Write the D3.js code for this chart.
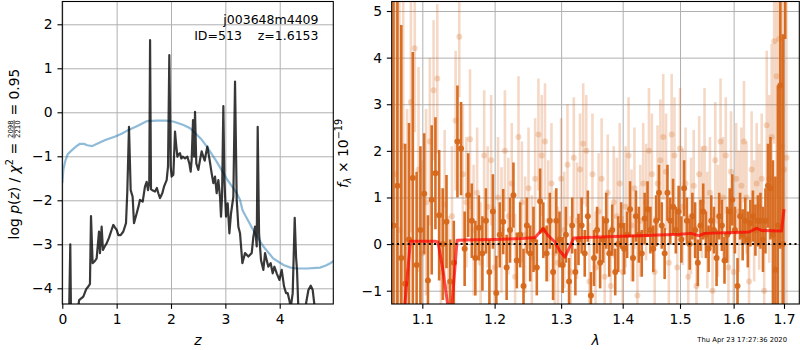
<!DOCTYPE html>
<html><head><meta charset="utf-8">
<script src="https://cdn.jsdelivr.net/npm/d3@7"></script>
<style>
body{margin:0;background:#fff;}
svg{font-family:"DejaVu Sans",sans-serif;}
text{white-space:pre;}
</style></head><body>
<svg id="c" width="800" height="350"></svg>
<script>
// ---------- p(z) panel data ----------
const zGrid=[0.10,0.125,0.147,0.16,0.25,0.31,0.387,0.44,0.479,0.509,
0.528,0.558,0.60,0.632,0.675,0.693,0.724,0.748,0.78,0.816,
0.86,0.908,0.939,0.97,1.0,1.031,1.074,1.123,1.172,1.196,
1.227,1.258,1.294,1.319,1.368,1.40,1.429,1.479,1.521,1.552,
1.577,1.600,1.615,1.632,1.656,1.706,1.74,1.767,1.798,1.840,
1.871,1.920,1.945,1.969,1.994,2.012,2.043,2.074,2.092,2.117,
2.14,2.166,2.19,2.215,2.258,2.301,2.337,2.362,2.380,2.405,
2.425,2.442,2.465,2.503,2.534,2.564,2.595,2.62,2.644,2.669,
2.706,2.748,2.779,2.810,2.840,2.871,2.902,2.920,2.939,2.963,
2.982,3.012,3.043,3.074,3.104,3.147,3.178,3.209,3.239,3.270,
3.313,3.362,3.423,3.485,3.515,3.546,3.577,3.595,3.620,3.656,
3.699,3.730,3.761,3.791,3.834,3.871,3.902,3.945,3.994,4.037,
4.080,4.117,4.147,4.178,4.202,4.239,4.276,4.301,4.319,4.344,
4.40,4.485,4.528,4.571,4.607,4.650,4.70,4.99];
const logPz=[-4.8,-4.6,-3.0,-4.6,-4.8,-4.27,-4.19,-4.02,-3.96,-3.90,
-2.36,-3.43,-3.38,-3.32,-2.71,-3.20,-2.60,-3.13,-3.05,-2.98,
-2.85,-2.67,-2.56,-2.62,-2.67,-2.79,-2.79,-2.71,-2.52,-1.80,
-0.33,-1.77,-1.92,-2.52,-2.30,-2.15,-1.99,-2.03,-1.69,-1.58,
-1.77,-1.58,1.64,-1.75,-1.77,-1.80,-1.72,-1.84,-1.95,-1.84,
-1.69,-1.54,-1.23,1.30,-1.23,-1.46,-1.42,-0.44,-0.70,-1.01,
-0.95,-0.93,-1.05,-1.01,-1.05,-1.01,-1.16,-1.35,-1.08,-0.18,
-1.01,0.01,-1.16,-1.31,-1.08,-0.89,-1.01,-1.10,-0.93,-0.78,
-1.05,-1.39,-1.61,-1.46,-1.84,-1.54,-1.92,-2.37,-1.92,0.14,
-1.54,-2.37,-2.07,-2.75,-2.30,-1.92,0.70,-1.99,-2.60,-2.75,
-3.43,-3.20,-3.28,-3.20,-2.83,-2.60,-3.05,-0.33,-2.75,-3.36,
-3.58,-3.20,-3.36,-3.51,-3.43,-3.66,-3.51,-3.66,-3.81,-3.58,
-3.96,-4.11,-4.11,-4.27,-4.45,-4.11,-2.40,-3.29,-3.6,-4.5,
-4.8,-4.34,-4.04,-3.94,-4.04,-4.5,-4.9,-5.2];
const zPrior=[0,0.02,0.056,0.1,0.178,0.25,0.32,0.40,0.46,0.546,
0.65,0.79,0.975,1.1,1.22,1.40,1.558,1.742,1.9,2.04,
2.23,2.35,2.41,2.55,2.66,2.84,3.02,3.21,3.27,3.31,
3.33,3.51,3.70,3.88,4.07,4.2,4.31,4.50,4.74,4.85,4.93,5.02];
const logPrior=[-1.61,-1.30,-1.10,-0.95,-0.86,-0.78,-0.72,-0.72,-0.75,-0.77,
-0.71,-0.63,-0.55,-0.48,-0.40,-0.30,-0.20,-0.19,-0.19,-0.21,
-0.29,-0.36,-0.43,-0.60,-0.78,-1.12,-1.50,-1.84,-1.99,-2.20,
-2.26,-2.67,-3.05,-3.32,-3.47,-3.53,-3.55,-3.55,-3.53,-3.48,-3.43,-3.36];
const pzXTicks=[0,1,2,3,4];
const pzYTicks=[-4,-3,-2,-1,0,1,2];
const pzDomainX=[0,4.986], pzDomainY=[-4.357,2.518];
const titleLine1="j003648m4409";
const titleLine2="ID=513    z=1.6153";

// ---------- spectrum panel data ----------
const lamDark=[1.0625,1.0675,1.0725,1.0775,1.0825,1.0875,1.0925,1.0975,1.1025,1.1075,
1.1125,1.1175,1.1225,1.1275,1.1325,1.1375,1.1425,1.1475,1.1525,1.1575,
1.1625,1.1675,1.1725,1.1775,1.1825,1.1875,1.1925,1.1975,1.2025,1.2075,
1.2125,1.2175,1.2225,1.2275,1.2325,1.2375,1.2425,1.2475,1.2525,1.2575,
1.2625,1.2675,1.2725,1.2775,1.2825,1.2875,1.2925,1.2975,1.3025,1.3075,
1.3125,1.3175,1.3225,1.3275,1.3325,1.3375,1.3425,1.3475,1.3525,1.3575,
1.3625,1.3675,1.3725,1.3775,1.3825,1.3875,1.3925,1.3975,1.4025,1.4075,
1.4125,1.4175,1.4225,1.4275,1.4325,1.4375,1.4425,1.4475,1.4525,1.4575,
1.4625,1.4675,1.4725,1.4775,1.4825,1.4875,1.4925,1.4975,1.5025,1.5075,
1.5125,1.5175,1.5225,1.5275,1.5325,1.5375,1.5425,1.5475,1.5525,1.5575,
1.5625,1.5675,1.5725,1.5775,1.5825,1.5875,1.5925,1.5975,1.6025,1.6075,
1.6125,1.6175,1.6225,1.6275,1.6325,1.6375,1.6425,1.6475,1.6525,1.6575,
1.6625,1.6675,1.6725,1.6775,1.6825,1.6875,1.6925,1.6975,1.7025];
const fluxDark=[0.4,1.25,-0.3,-0.85,0.1,1.42,-0.45,0.3,1.08,-0.78,
0.95,1.52,0.62,0.0,0.48,-0.8,-0.4,2.2,2.05,-0.1,
1.05,0.5,-0.3,0.35,-0.2,0.5,-0.6,0.7,-1.05,0.2,
0.48,-0.5,0.3,1.05,-0.35,0.2,-0.9,0.4,-0.2,0.1,
-0.5,0.92,0.3,-0.2,0.5,-0.6,0.5,0.1,-0.45,0.2,
-0.8,0.4,-0.6,0.1,0.4,-0.2,0.6,-1.1,-0.3,0.3,
-0.4,0.1,0.5,-0.2,0.3,-0.6,0.0,0.4,-0.1,0.2,
0.75,-0.3,0.6,0.2,-0.2,0.55,0.75,0.3,-0.1,0.5,
1.1,0.4,-0.2,1.1,0.5,0.8,0.3,0.7,0.1,1.2,
0.5,0.0,0.6,0.3,-0.4,0.4,0.7,0.2,-0.1,0.5,
0.3,-0.3,0.6,0.4,-0.35,0.2,0.7,0.95,0.3,-0.9,
0.6,0.2,0.5,0.1,0.45,0.6,0.3,0.5,0.5,0.1,
0.5,1.25,1.2,0.2,-0.55,0.4,3.4,0.0,5.8];
const errDark=[6,4.5,5,3,2.5,2.7,2.0,1.8,1.3,1.4,
1.6,1.2,1.4,1.2,1.0,0.9,0.9,1.2,1.0,0.8,
0.9,0.8,0.8,0.7,0.8,0.7,0.7,0.8,0.8,0.7,
0.7,0.7,0.7,0.7,0.6,0.7,0.8,0.6,0.6,0.7,
0.6,0.7,0.6,0.6,0.6,0.6,0.7,0.6,0.6,0.6,
0.5,0.6,0.5,0.55,0.6,0.5,0.55,0.5,0.6,0.5,
0.55,0.5,0.6,0.5,0.55,0.5,0.6,0.5,0.55,0.5,
0.6,0.5,0.55,0.6,0.5,0.55,0.6,0.5,0.5,0.55,
0.6,0.5,0.55,0.6,0.5,0.6,0.5,0.55,0.5,0.6,
0.5,0.55,0.5,0.6,0.5,0.55,0.6,0.5,0.5,0.55,
0.5,0.6,0.5,0.55,0.5,0.6,0.5,0.55,0.5,0.6,
0.5,0.55,0.5,0.6,0.5,0.55,0.55,0.55,0.6,0.7,
0.7,0.9,1.1,1.6,2.0,3,3.5,4.5,1.4];
const lamLight=[1.065,1.070,1.075,1.080,1.085,1.090,1.095,1.100,1.105,1.110,
1.115,1.120,1.125,1.130,1.135,1.140,1.145,1.150,1.155,1.160,
1.165,1.170,1.175,1.180,1.185,1.190,1.195,1.200,1.205,1.210,
1.215,1.220,1.225,1.230,1.235,1.240,1.245,1.250,1.255,1.260,
1.265,1.270,1.275,1.280,1.285,1.290,1.295,1.300,1.305,1.310,
1.315,1.320,1.325,1.330,1.335,1.340,1.345,1.350,1.355,1.360,
1.365,1.370,1.375,1.380,1.385,1.390,1.395,1.400,1.405,1.410,
1.415,1.420,1.425,1.430,1.435,1.440,1.445,1.450,1.455,1.460,
1.465,1.470,1.475,1.480,1.485,1.490,1.495,1.500,1.505,1.510,
1.515,1.520,1.525,1.530,1.535,1.540,1.545,1.550,1.555,1.560,
1.565,1.570,1.575,1.580,1.585,1.590,1.595,1.600,1.605,1.610,
1.615,1.620,1.625,1.630,1.635,1.640,1.645,1.650,1.655,1.660,
1.665,1.670,1.675,1.680,1.685,1.690,1.695,1.700,1.705];
const fluxLight=[1.5,0.3,2.1,-0.6,3.05,4.2,1.6,-0.2,0.9,2.2,
3.3,3.55,-0.6,0.85,-0.9,0.6,2.65,4.45,1.5,0.9,
2.25,0.3,1.1,-0.4,1.9,0.8,1.8,-0.5,1.0,0.3,
2.0,0.6,1.3,-0.7,2.3,0.9,0.2,1.2,-0.3,1.4,
2.35,1.9,2.2,0.5,1.3,-0.2,-0.4,1.4,0.3,1.7,
-0.6,1.85,0.5,1.6,2.15,2.0,-0.8,1.5,-0.5,0.7,
1.4,-0.7,1.1,-0.9,0.9,0.6,1.3,-0.6,0.8,1.9,
0.4,1.2,-1.1,0.5,1.3,0.9,2.0,1.5,-0.6,1.3,
1.8,2.3,1.55,-0.4,2.35,1.9,-0.5,2.05,0.8,1.3,
-0.7,0.6,1.25,-0.9,1.5,0.9,2.05,0.3,1.1,-1.0,
1.8,0.5,2.2,1.0,1.9,-0.5,1.55,-0.6,1.4,0.7,
1.25,2.2,1.0,-0.8,1.6,0.5,1.3,0.8,1.4,-1.0,
2.55,1.4,2.3,4.35,3.6,4.4,2.1,1.6,1.85];
const errLight=[5,5,4,3.5,2.8,1.8,2.2,2,2,1.8,
1.5,1.6,1.8,1.6,1.5,1.5,1.5,1.3,1.5,1.4,
1.5,1.4,1.4,1.3,1.4,1.3,1.4,1.3,1.3,1.35,
1.3,1.25,1.3,1.35,1.3,1.3,1.25,1.3,1.35,1.3,
1.2,1.3,1.25,1.3,1.3,1.35,1.2,1.3,1.25,1.3,
1.2,1.3,1.25,1.2,1.3,1.2,1.25,1.3,1.2,1.25,
1.3,1.2,1.25,1.3,1.2,1.25,1.3,1.2,1.3,1.25,
1.2,1.3,1.25,1.2,1.3,1.25,1.35,1.3,1.2,1.25,
1.3,1.35,1.25,1.2,1.3,1.25,1.2,1.3,1.25,1.2,
1.3,1.25,1.2,1.3,1.25,1.2,1.3,1.25,1.2,1.3,
1.25,1.2,1.35,1.3,1.25,1.2,1.3,1.25,1.2,1.3,
1.25,1.3,1.2,1.3,1.25,1.3,1.3,1.35,1.4,1.5,
1.6,1.8,2.0,2.2,2.6,3,3.5,4,4];
const lamModel=[1.062,1.0771,1.0843,1.10,1.118,1.121,1.128,1.135,1.1395,1.147,
1.16,1.20,1.24,1.26,1.265,1.272,1.28,1.29,1.298,1.306,
1.314,1.32,1.36,1.40,1.45,1.50,1.52,1.535,1.545,1.60,
1.63,1.645,1.655,1.695,1.70];
const fluxModel=[-3,-1.3,0.06,0.06,0.06,0.04,-0.6,-1.4,-1.4,0.08,
0.09,0.10,0.12,0.14,0.22,0.33,0.18,0.05,-0.15,-0.28,
-0.05,0.13,0.15,0.17,0.19,0.21,0.23,0.18,0.23,0.25,
0.26,0.34,0.29,0.28,0.75];
const specXTicks=[1.1,1.2,1.3,1.4,1.5,1.6,1.7];
const specYTicks=[-1,0,1,2,3,4,5];
const specDomainX=[1.0602,1.7316], specDomainY=[-1.285,5.204];
const timeStamp="Thu Apr 23 17:27:36 2020";

// ---------- drawing ----------
const svg=d3.select("#c");
const FS=13.9, TICK=4.86, GRID="#b0b0b0";
const specColor="#d6671a";

function panel(box, xs, ys, xt, yt, xfmt, yfmt, id){
  const g=svg.append("g");
  // grid
  g.append("g").attr("transform",`translate(0,${box.y1})`)
    .call(d3.axisBottom(xs).tickValues(xt).tickSize(-(box.y1-box.y0)).tickFormat(""))
    .call(a=>{a.select(".domain").remove();a.selectAll("line").attr("stroke",GRID).attr("stroke-width",1);});
  g.append("g").attr("transform",`translate(${box.x0},0)`)
    .call(d3.axisLeft(ys).tickValues(yt).tickSize(-(box.x1-box.x0)).tickFormat(""))
    .call(a=>{a.select(".domain").remove();a.selectAll("line").attr("stroke",GRID).attr("stroke-width",1);});
  svg.append("defs").append("clipPath").attr("id",id)
    .append("rect").attr("x",box.x0).attr("y",box.y0).attr("width",box.x1-box.x0).attr("height",box.y1-box.y0);
  const plot=svg.append("g").attr("clip-path",`url(#${id})`);
  return plot;
}
function frameAndAxes(box, xs, ys, xt, yt, xfmt, yfmt){
  svg.append("rect").attr("x",box.x0).attr("y",box.y0).attr("width",box.x1-box.x0).attr("height",box.y1-box.y0)
    .attr("fill","none").attr("stroke","#000").attr("stroke-width",1.1);
  const style=a=>{a.select(".domain").remove();a.attr("font-family",null).attr("font-size",null);
    a.selectAll("text").attr("font-size",FS).attr("fill","#000");a.selectAll("line").attr("stroke","#000").attr("stroke-width",1.1);};
  svg.append("g").attr("transform",`translate(0,${box.y1})`)
    .call(d3.axisBottom(xs).tickValues(xt).tickSize(TICK).tickPadding(TICK).tickFormat(xfmt)).call(style);
  svg.append("g").attr("transform",`translate(${box.x0},0)`)
    .call(d3.axisLeft(ys).tickValues(yt).tickSize(TICK).tickPadding(TICK).tickFormat(yfmt)).call(style);
}

// Left panel
const L={x0:62.3,x1:333.3,y0:1.5,y1:304};
const xz=d3.scaleLinear().domain(pzDomainX).range([L.x0,L.x1]);
const yz=d3.scaleLinear().domain(pzDomainY).range([L.y1,L.y0]);
const pl=panel(L,xz,yz,pzXTicks,pzYTicks,null,null,"clipL");
pl.append("path").attr("d",d3.line().x(i=>xz(zPrior[i])).y(i=>yz(logPrior[i]))(d3.range(zPrior.length)))
  .attr("fill","none").attr("stroke","#1f77b4").attr("stroke-opacity",0.5).attr("stroke-width",2.2);
pl.append("path").attr("d",d3.line().x(i=>xz(zGrid[i])).y(i=>yz(logPz[i]))(d3.range(zGrid.length)))
  .attr("fill","none").attr("stroke","#000").attr("stroke-opacity",0.78).attr("stroke-width",2.2).attr("stroke-linejoin","round");
frameAndAxes(L,xz,yz,pzXTicks,pzYTicks,d3.format("d"),d3.format("d"));
svg.append("text").attr("x",318.5).attr("y",24).attr("text-anchor","end").attr("font-size",12.5).text(titleLine1);
svg.append("text").attr("x",318.5).attr("y",39.5).attr("text-anchor","end").attr("font-size",12.5).text(titleLine2);

// Right panel
const R={x0:391.7,x1:799.3,y0:1.5,y1:304};
const xl=d3.scaleLog().domain(specDomainX).range([R.x0,R.x1]);
const yl=d3.scaleLinear().domain(specDomainY).range([R.y1,R.y0]);
const pr=panel(R,xl,yl,specXTicks,specYTicks,null,null,"clipR");
function drawSpec(g,lam,flux,err,op){
  const idx=d3.range(lam.length);
  g.append("g").selectAll("line").data(idx).join("line")
    .attr("x1",i=>xl(lam[i])).attr("x2",i=>xl(lam[i]))
    .attr("y1",i=>yl(flux[i]-err[i])).attr("y2",i=>yl(flux[i]+err[i]))
    .attr("stroke",specColor).attr("stroke-opacity",op).attr("stroke-width",2.6);
  g.append("g").selectAll("circle").data(idx).join("circle")
    .attr("cx",i=>xl(lam[i])).attr("cy",i=>yl(flux[i])).attr("r",3)
    .attr("fill",specColor).attr("fill-opacity",op);
}
drawSpec(pr,lamLight,fluxLight,errLight,0.25);
drawSpec(pr,lamDark,fluxDark,errDark,0.95);
pr.append("path").attr("d",d3.line().x(i=>xl(lamModel[i])).y(i=>yl(fluxModel[i]))(d3.range(lamModel.length)))
  .attr("fill","none").attr("stroke","#ff0000").attr("stroke-opacity",0.7).attr("stroke-width",3).attr("stroke-linejoin","round");
pr.append("line").attr("x1",R.x0).attr("x2",R.x1).attr("y1",yl(0)).attr("y2",yl(0))
  .attr("stroke","#000").attr("stroke-width",2).attr("stroke-dasharray","2,3.3");
frameAndAxes(R,xl,yl,specXTicks,specYTicks,d3.format(".1f"),d3.format("d"));

// x labels
svg.append("text").attr("x",(L.x0+L.x1)/2).attr("y",345).attr("text-anchor","middle").attr("font-size",FS).attr("font-style","italic").text("z");
svg.append("text").attr("x",(R.x0+R.x1)/2).attr("y",345).attr("text-anchor","middle").attr("font-size",FS).attr("font-style","italic").text("λ");

// left y label with fraction
(function(){
  const g=svg.append("g");
  const t1=g.append("text").attr("font-size",FS).attr("y",0);
  t1.append("tspan").text("log ");
  t1.append("tspan").attr("font-style","italic").text("p");
  t1.append("tspan").text("(");
  t1.append("tspan").attr("font-style","italic").text("z");
  t1.append("tspan").text(") / ");
  t1.append("tspan").attr("font-style","italic").text("χ");
  t1.append("tspan").attr("font-size",9.7).attr("dy",-5.5).text("2");
  t1.append("tspan").attr("dy",5.5).text(" = ");
  const w1=t1.node().getComputedTextLength();
  const fs=6.9;
  const num=g.append("text").attr("font-size",fs).attr("text-anchor","middle").attr("y",-5.6).text("2098");
  const den=g.append("text").attr("font-size",fs).attr("text-anchor","middle").attr("y",1.6).text("2210");
  const fw=Math.max(num.node().getComputedTextLength(),den.node().getComputedTextLength())+1;
  const cx=w1+fw/2;
  num.attr("x",cx); den.attr("x",cx);
  g.append("line").attr("x1",w1).attr("x2",w1+fw).attr("y1",-4.4).attr("y2",-4.4).attr("stroke","#000").attr("stroke-width",0.7);
  const t2=g.append("text").attr("font-size",FS).attr("x",w1+fw).attr("y",0).text(" = 0.95");
  const T=w1+fw+t2.node().getComputedTextLength();
  g.attr("transform",`translate(18.5,${154+T/2}) rotate(-90)`);
})();
// right y label
(function(){
  const g=svg.append("g");
  const t=g.append("text").attr("font-size",FS);
  t.append("tspan").attr("font-style","italic").text("f");
  t.append("tspan").attr("font-size",9.7).attr("font-style","italic").attr("dy",3).text("λ");
  t.append("tspan").attr("dy",-3).text(" × 10");
  t.append("tspan").attr("font-size",9.7).attr("dy",-5.5).text("−19");
  const T=t.node().getComputedTextLength();
  g.attr("transform",`translate(347.5,${153.5+T/2}) rotate(-90)`);
})();
svg.append("text").attr("x",787).attr("y",342).attr("text-anchor","end").attr("font-size",6.8).text(timeStamp);
</script>
</body></html>
